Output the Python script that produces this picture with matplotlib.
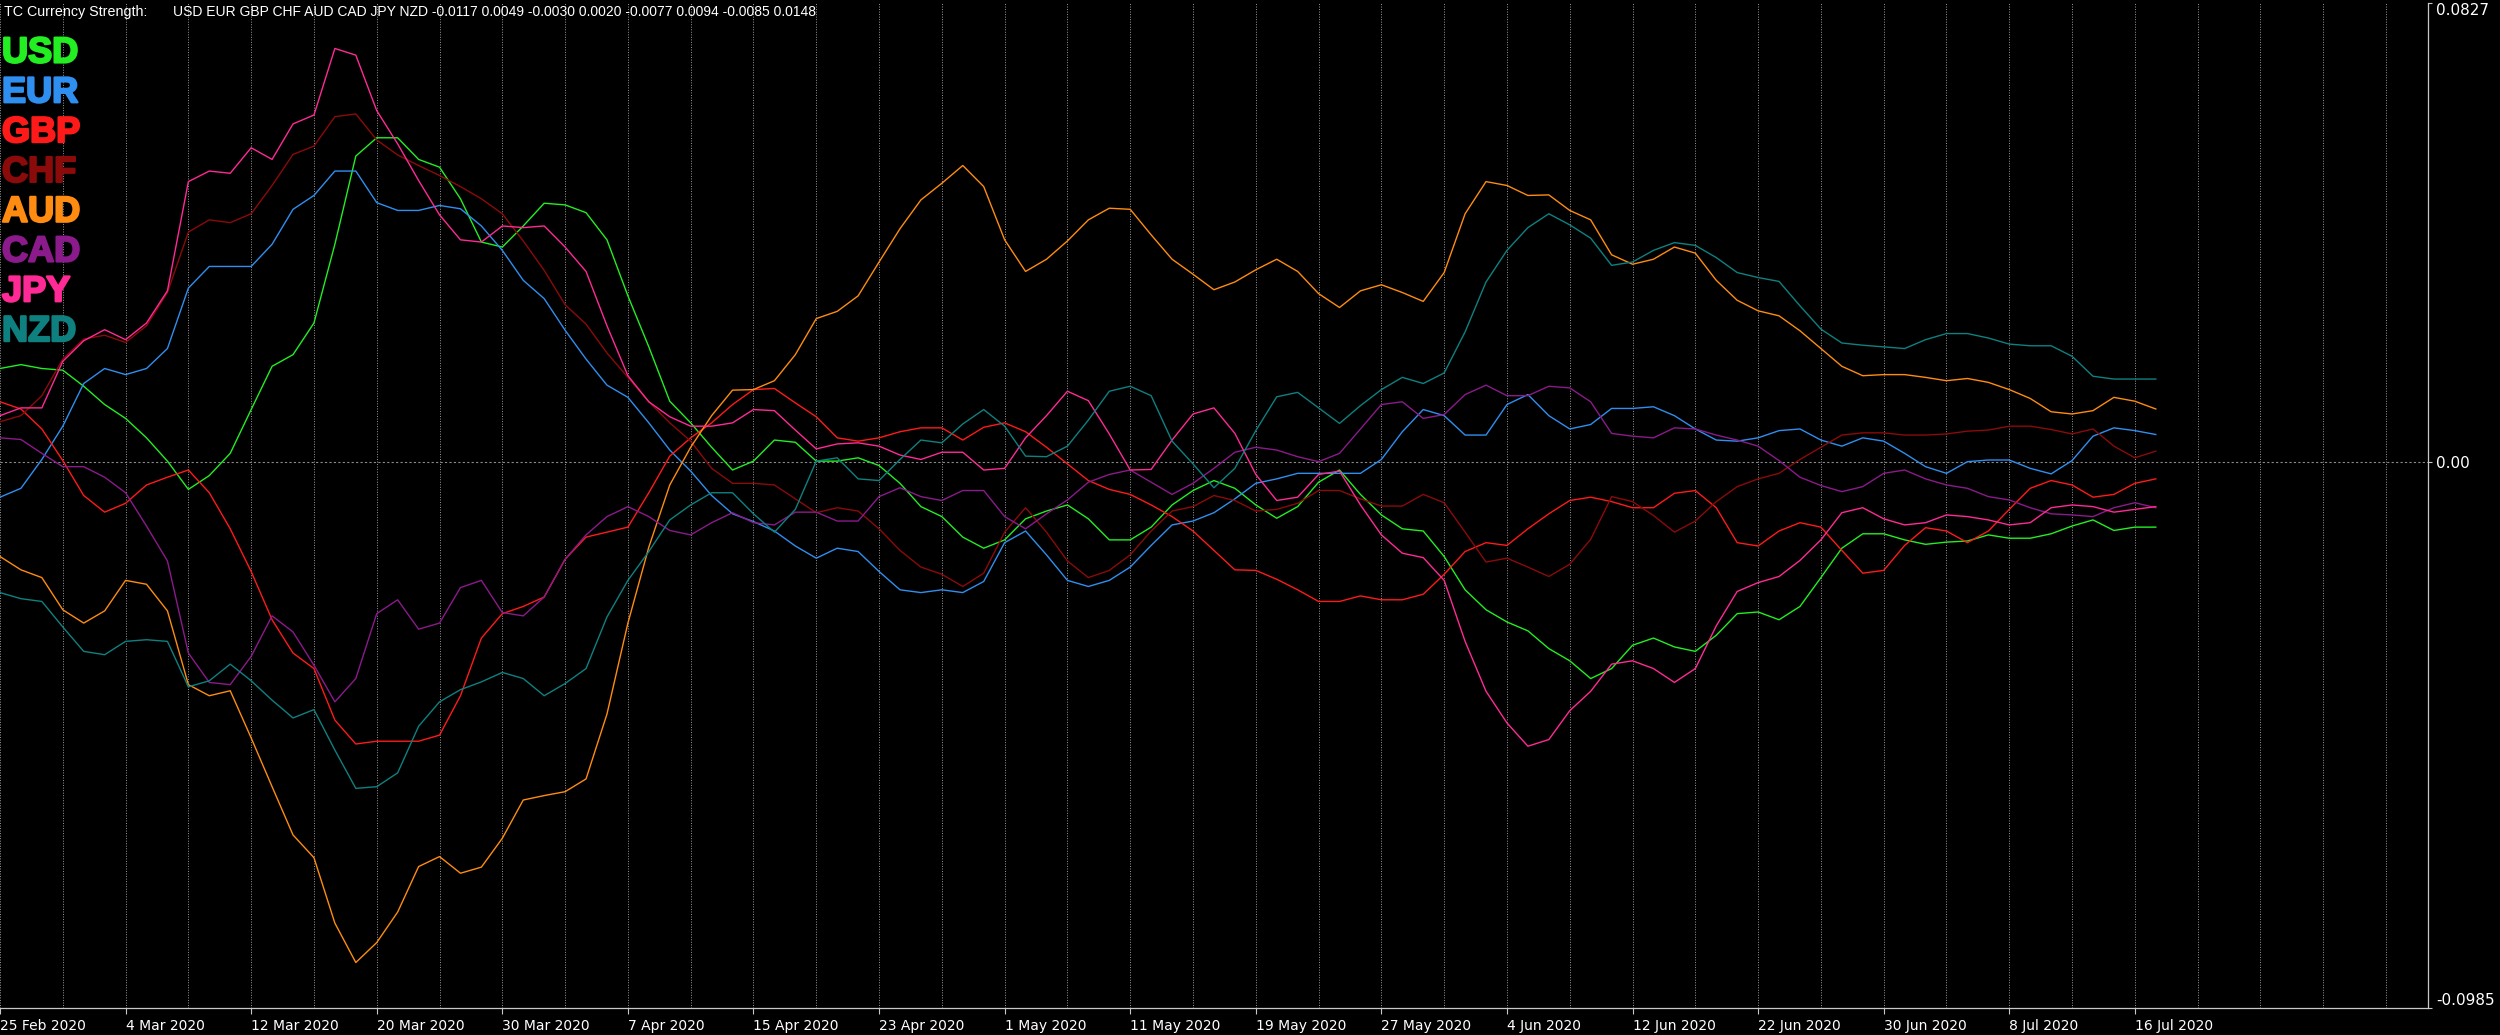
import numpy as np
import matplotlib
matplotlib.use("Agg")
import matplotlib.pyplot as plt
import matplotlib.patheffects as pe

# currency strength per daily bar, in units of 0.0001 (bar 0 = 25 Feb 2020)
usd = [168, 175, 168, 165, 136, 103, 78, 43, 1, -50, -25, 15, 94, 172, 193, 250, 392, 551, 584, 584, 545, 531,
       474, 396, 387, 425, 466, 463, 449, 400, 299, 207, 109, 70, 26, -15, 1, 39, 35, 1, 1, 7,
       -7, -39, -81, -99, -136, -156, -141, -103, -89, -78, -103, -141, -141, -118, -78, -52, -34, -48, -78, -102, -81,
       -37, -15, -59, -96, -121, -125, -171, -231, -267, -289, -305, -337, -359, -391, -373, -331, -318, -334, -342, -313,
       -274, -271, -285, -261, -209, -156, -130, -130, -141, -149, -145, -143, -132, -138, -138, -130, -116, -105, -124, -118, -118]
eur = [-64, -48, 4, 64, 141, 168, 157, 168, 204, 313, 352, 352, 352, 392, 455, 480, 524, 524, 467, 453, 453, 462,
       456, 425, 381, 327, 294, 237, 185, 138, 116, 70, 21, -17, -61, -94, -108, -125, -152, -174, -156, -162,
       -198, -231, -236, -231, -236, -216, -146, -125, -168, -214, -225, -214, -190, -151, -114, -107, -92, -67, -39, -31, -21,
       -21, -21, -21, 4, 54, 94, 83, 48, 48, 103, 121, 83, 59, 67, 96, 96, 99, 83, 59, 39,
       37, 43, 56, 59, 39, 28, 43, 37, 15, -9, -21, 0, 3, 3, -12, -22, 2, 46, 61, 56, 49]
gbp = [108, 95, 59, 2, -61, -91, -75, -42, -28, -15, -56, -121, -198, -285, -345, -373, -466, -509, -504, -504, -504, -493,
       -422, -318, -274, -261, -244, -176, -136, -127, -118, -56, 10, 43, 70, 103, 130, 132, 106, 81, 43, 37,
       43, 54, 61, 61, 39, 62, 70, 54, 26, -4, -34, -50, -59, -78, -99, -125, -160, -195, -196, -212, -231,
       -252, -252, -242, -249, -249, -239, -203, -162, -146, -151, -121, -94, -70, -64, -72, -83, -83, -57, -52, -83,
       -146, -152, -125, -110, -118, -160, -201, -196, -151, -119, -125, -146, -125, -86, -48, -34, -42, -64, -59, -39, -31]
chf = [72, 83, 119, 185, 221, 228, 215, 245, 305, 414, 436, 431, 447, 498, 554, 569, 622, 627, 580, 553, 534, 516,
       496, 474, 447, 398, 345, 283, 248, 196, 152, 108, 70, 37, -12, -39, -39, -42, -67, -92, -83, -89,
       -121, -160, -190, -203, -225, -201, -127, -83, -127, -179, -209, -196, -168, -125, -89, -81, -61, -70, -89, -86, -75,
       -52, -52, -67, -80, -80, -59, -74, -127, -181, -174, -190, -207, -185, -140, -63, -72, -97, -127, -107, -72,
       -45, -31, -21, 4, 26, 48, 52, 52, 48, 48, 50, 55, 57, 64, 64, 58, 50, 59, 28, 7, 19]
aud = [-171, -195, -209, -267, -291, -269, -214, -221, -269, -402, -422, -413, -498, -586, -673, -714, -832, -903, -867, -812, -730, -712,
       -742, -731, -679, -610, -602, -595, -572, -455, -291, -154, -42, 26, 83, 129, 130, 146, 193, 258, 271, 299,
       360, 420, 472, 502, 534, 496, 400, 343, 365, 398, 436, 457, 455, 409, 365, 338, 310, 324, 346, 365, 343,
       303, 278, 308, 319, 305, 289, 341, 447, 505, 498, 480, 481, 453, 436, 373, 356, 365, 387, 376, 327,
       291, 272, 263, 236, 204, 172, 155, 157, 157, 152, 146, 150, 143, 130, 114, 90, 86, 92, 116, 109, 95]
cad = [43, 40, 15, -9, -9, -28, -56, -116, -179, -345, -398, -402, -351, -278, -307, -367, -433, -391, -274, -249, -302, -291,
       -227, -214, -272, -278, -244, -176, -132, -99, -81, -99, -124, -132, -110, -92, -110, -114, -91, -91, -107, -107,
       -63, -47, -63, -70, -52, -52, -99, -121, -94, -69, -37, -23, -15, -37, -59, -39, -12, 17, 26, 21, 9,
       0, 15, 59, 103, 108, 78, 85, 121, 138, 119, 119, 136, 133, 108, 51, 46, 43, 61, 59, 48,
       39, 28, 2, -28, -43, -54, -45, -21, -15, -31, -42, -48, -63, -69, -83, -94, -96, -99, -83, -74, -83]
jpy = [83, 97, 97, 181, 218, 238, 220, 250, 308, 505, 524, 520, 566, 545, 609, 625, 745, 733, 633, 573, 507, 445,
       400, 396, 425, 422, 425, 387, 343, 245, 155, 108, 81, 64, 64, 70, 94, 92, 57, 23, 32, 34,
       28, 12, 4, 17, 17, -15, -12, 43, 83, 127, 110, 50, -15, -14, 39, 86, 97, 51, -23, -70, -64,
       -23, -17, -78, -132, -165, -173, -214, -324, -414, -471, -513, -501, -449, -414, -365, -359, -373, -398, -373, -296,
       -234, -218, -207, -178, -141, -92, -83, -103, -114, -110, -96, -99, -105, -114, -110, -83, -78, -81, -91, -86, -81]
nzd = [-236, -247, -252, -298, -342, -348, -324, -321, -324, -406, -395, -365, -395, -430, -462, -447, -520, -589, -586, -561, -477, -433,
       -411, -397, -380, -391, -422, -400, -373, -280, -214, -162, -105, -78, -56, -56, -94, -127, -86, 1, 7, -31,
       -34, 4, 39, 34, 68, 94, 64, 10, 9, 28, 75, 127, 136, 119, 37, -4, -47, -12, 56, 117, 125,
       97, 69, 101, 130, 152, 141, 160, 234, 324, 381, 422, 447, 427, 403, 354, 360, 381, 395, 390, 368,
       341, 332, 325, 281, 239, 214, 210, 207, 204, 220, 231, 231, 223, 212, 209, 209, 190, 154, 149, 149, 149]

currencies = ["USD", "EUR", "GBP", "CHF", "AUD", "CAD", "JPY", "NZD"]
colors = ["#22ee22", "#2f8ff0", "#ff1a1a", "#8b0a0a", "#ff8c10", "#8b1a8b", "#ff2a95", "#0f8080"]
series = [usd, eur, gbp, chf, aud, cad, jpy, nzd]

date_labels = ["25 Feb 2020", "4 Mar 2020", "12 Mar 2020", "20 Mar 2020", "30 Mar 2020", "7 Apr 2020",
               "15 Apr 2020", "23 Apr 2020", "1 May 2020", "11 May 2020", "19 May 2020", "27 May 2020",
               "4 Jun 2020", "12 Jun 2020", "22 Jun 2020", "30 Jun 2020", "8 Jul 2020", "16 Jul 2020"]
header_values = "-0.0117 0.0049 -0.0030 0.0020 -0.0077 0.0094 -0.0085 0.0148"
y_top, y_bottom = 0.0827, -0.0985

W, H = 2500, 1035
fig = plt.figure(figsize=(W / 100, H / 100), dpi=100, facecolor="black")
ax = fig.add_axes([0, 1 - 1008 / H, 2428 / W, 1005 / H], facecolor="black")

for name, vals, col in zip(currencies, series, colors):
    v = np.array(vals) * 1e-4
    ax.plot(np.arange(len(v)), v, color=col, lw=1.0, zorder=3)

ax.set_xlim(0, 2428 / 20.93)
ax.set_ylim(y_bottom, y_top)
ax.axhline(0, color="#8a8a8a", lw=0.8, ls=(0, (2, 2)), zorder=1)

# date ticks every 6 bars, dotted grid every 3 bars
major = np.arange(0, 6 * len(date_labels), 6)
minor = [m for m in range(0, 115, 3) if m % 6 or m > major[-1]]
ax.set_xticks(major)
ax.set_xticklabels(date_labels, ha="left")
ax.set_xticks(minor, minor=True)
ax.grid(True, which="both", axis="x", color="#9a9a9a", lw=0.7, ls=(0, (1, 1.6)))
ax.tick_params(axis="x", which="major", colors="#c8c8c8", length=4, pad=4, labelsize=10, labelcolor="white")
ax.tick_params(axis="x", which="minor", length=0)

ax.yaxis.tick_right()
ax.set_yticks([y_top, 0.0, y_bottom])
ax.set_yticklabels(["0.0827", "0.00", "-0.0985"])
ylbls = ax.get_yticklabels()
ylbls[0].set_va("top")
ylbls[2].set_va("bottom")
ax.tick_params(axis="y", colors="#c8c8c8", length=3, pad=3, labelsize=11, labelcolor="white")

for s in ["left", "top"]:
    ax.spines[s].set_visible(False)
for s in ["right", "bottom"]:
    ax.spines[s].set_color("#c8c8c8")
    ax.spines[s].set_linewidth(0.9)

# header
fig.text(4 / W, 1 - 12 / H, "TC Currency Strength:", color="white", fontsize=10.3,
         family="Liberation Sans", va="center", ha="left")
fig.text(173 / W, 1 - 12 / H, " ".join(currencies) + " " + header_values, color="white",
         fontsize=10, family="Liberation Sans", va="center", ha="left")

# legend labels
for k, (name, col) in enumerate(zip(currencies, colors)):
    fig.text(2 / W, 1 - (53 + 39.8 * k) / H, name, color=col, fontsize=26, fontweight="bold",
             family="Liberation Sans", va="center", ha="left",
             path_effects=[pe.withStroke(linewidth=1.6, foreground=col)])

fig.savefig("out.png", dpi=100, facecolor="black")
